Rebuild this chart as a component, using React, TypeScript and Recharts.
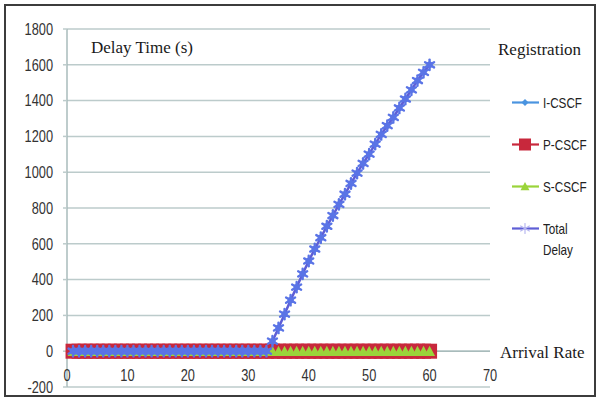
import React from 'react';
import { LineChart, Line, XAxis, YAxis, CartesianGrid, ReferenceLine, Legend } from 'recharts';

const arrivalRate = [1, 2, 3, 4, 5, 6, 7, 8, 9, 10, 11, 12, 13, 14, 15, 16, 17, 18, 19, 20, 21, 22, 23, 24, 25, 26, 27, 28, 29, 30, 31, 32, 33, 34, 35, 36, 37, 38, 39, 40, 41, 42, 43, 44, 45, 46, 47, 48, 49, 50, 51, 52, 53, 54, 55, 56, 57, 58, 59, 60];
const iCscf = [0, 0, 0, 0, 0, 0, 0, 0, 0, 0, 0, 0, 0, 0, 0, 0, 0, 0, 0, 0, 0, 0, 0, 0, 0, 0, 0, 0, 0, 0, 0, 0, 0, 0, 0, 0, 0, 0, 0, 0, 0, 0, 0, 0, 0, 0, 0, 0, 0, 0, 0, 0, 0, 0, 0, 0, 0, 0, 0, 0];
const pCscf = [0, 0, 0, 0, 0, 0, 0, 0, 0, 0, 0, 0, 0, 0, 0, 0, 0, 0, 0, 0, 0, 0, 0, 0, 0, 0, 0, 0, 0, 0, 0, 0, 0, 0, 0, 0, 0, 0, 0, 0, 0, 0, 0, 0, 0, 0, 0, 0, 0, 0, 0, 0, 0, 0, 0, 0, 0, 0, 0, 0];
const sCscf = [0, 0, 0, 0, 0, 0, 0, 0, 0, 0, 0, 0, 0, 0, 0, 0, 0, 0, 0, 0, 0, 0, 0, 0, 0, 0, 0, 0, 0, 0, 0, 0, 0, 0, 0, 0, 0, 0, 0, 0, 0, 0, 0, 0, 0, 0, 0, 0, 0, 0, 0, 0, 0, 0, 0, 0, 0, 0, 0, 0];
const totalDelay = [0, 0, 0, 0, 0, 0, 0, 0, 0, 0, 0, 0, 0, 0, 0, 0, 0, 0, 0, 0, 0, 0, 0, 0, 0, 0, 0, 0, 0, 0, 0, 0, 0, 56, 130, 207, 285, 358, 432, 504, 571, 634, 698, 758, 820, 877, 937, 995, 1049, 1101, 1157, 1211, 1260, 1306, 1359, 1409, 1460, 1512, 1558, 1600];

const xTicks = [0, 10, 20, 30, 40, 50, 60, 70];
const yTicks = [-200, 0, 200, 400, 600, 800, 1000, 1200, 1400, 1600, 1800];

const seriesNames = ['I-CSCF', 'P-CSCF', 'S-CSCF', 'Total Delay'];
const chartTitle = 'Delay Time (s)';
const legendTitle = 'Registration';
const xTitle = 'Arrival Rate';

const data = arrivalRate.map((r, i) => ({
  rate: r,
  iCscf: iCscf[i],
  pCscf: pCscf[i],
  sCscf: sCscf[i],
  totalDelay: totalDelay[i],
}));

const C_I = '#4A94E0';
const C_P = '#C8283C';
const C_S = '#9AD43A';
const C_T = '#5E5ED6';
const C_T_MARK = '#5A74E6';
const GRID = '#BCCBCB';
const AXIS = '#A8BBBB';
const SANS = '"Liberation Sans", Arial, sans-serif';
const SERIF = '"Liberation Serif", "DejaVu Serif", serif';
const SQUEEZE = 0.8;
const LEG_SQUEEZE = 0.78;

function Diamond({ cx, cy, r, color }: any) {
  return <path d={`M${cx},${cy - r}L${cx + r},${cy}L${cx},${cy + r}L${cx - r},${cy}Z`} fill={color} />;
}
function Square({ cx, cy, r, color }: any) {
  return <rect x={cx - r} y={cy - r} width={2 * r} height={2 * r} fill={color} />;
}
function Tri({ cx, cy, r, color }: any) {
  return <path d={`M${cx},${cy - r}L${cx + r},${cy + r * 0.85}L${cx - r},${cy + r * 0.85}Z`} fill={color} />;
}
function Star({ cx, cy, r, color, w }: any) {
  const d = r * 0.866;
  return (
    <g stroke={color} strokeWidth={w} strokeLinecap="round">
      <line x1={cx} y1={cy - r} x2={cx} y2={cy + r} />
      <line x1={cx - d} y1={cy - r / 2} x2={cx + d} y2={cy + r / 2} />
      <line x1={cx - d} y1={cy + r / 2} x2={cx + d} y2={cy - r / 2} />
    </g>
  );
}

const dotI = (p: any) => <Diamond key={`i${p.index}`} cx={p.cx} cy={p.cy} r={3.5} color={C_I} />;
const dotP = (p: any) => <Square key={`p${p.index}`} cx={p.cx} cy={p.cy} r={7.5} color={C_P} />;
const dotS = (p: any) => <Tri key={`s${p.index}`} cx={p.cx} cy={p.cy} r={5.5} color={C_S} />;
const dotT = (p: any) => (
  <g key={`t${p.index}`}>
    <circle cx={p.cx} cy={p.cy} r={3.2} fill={C_T_MARK} />
    <Star cx={p.cx} cy={p.cy} r={5.2} color={C_T_MARK} w={2.4} />
  </g>
);

const legendIcon = (name: string) => {
  const cx = 15;
  const cy = 10.5;
  let color = C_I;
  let mark: any = null;
  if (name === 'I-CSCF') { color = C_I; mark = <Diamond cx={cx} cy={cy} r={3.5} color={C_I} />; }
  if (name === 'P-CSCF') { color = C_P; mark = <Square cx={cx} cy={cy} r={6} color={C_P} />; }
  if (name === 'S-CSCF') { color = C_S; mark = <Tri cx={cx} cy={cy} r={4.5} color={C_S} />; }
  if (name === 'Total Delay') { color = C_T; mark = <Star cx={cx} cy={cy} r={5} color="#B8B8F0" w={1.2} />; }
  return (
    <svg width={32} height={21} style={{ display: 'block', flex: 'none' }}>
      <line x1={2} y1={cy} x2={29} y2={cy} stroke={color} strokeWidth={2.2} />
      {mark}
    </svg>
  );
};

const renderLegend = (props: any) => {
  const payload = props.payload || [];
  return (
    <div style={{ position: 'absolute', left: 510, top: 92, fontFamily: SANS, fontSize: 15, color: '#222' }}>
      {payload.map((p: any) => (
        <div key={p.value} style={{ display: 'flex', alignItems: 'flex-start', height: 42 }}>
          {legendIcon(p.value)}
          <div style={{ transform: `scaleX(${LEG_SQUEEZE})`, transformOrigin: 'left top', marginLeft: 1 }}>
            {String(p.value).split(' ').map((w: string) => (
              <div key={w} style={{ lineHeight: '21px', whiteSpace: 'nowrap' }}>{w}</div>
            ))}
          </div>
        </div>
      ))}
    </div>
  );
};

const XTick = (props: any) => {
  const { x, y, payload } = props;
  return (
    <text x={0} y={0} transform={`translate(${x},${y - 6}) scale(${SQUEEZE},1)`} textAnchor="middle" fill="#333" fontFamily={SANS} fontSize={16}>
      {payload.value}
    </text>
  );
};

const YTick = (props: any) => {
  const { x, y, payload } = props;
  return (
    <text x={0} y={0} dy="0.36em" transform={`translate(${x},${y}) scale(${SQUEEZE},1)`} textAnchor="end" fill="#333" fontFamily={SANS} fontSize={16}>
      {payload.value}
    </text>
  );
};

export default function App() {
  return (
    <div style={{ position: 'absolute', left: 0, top: 0, width: 600, height: 404, background: '#fff' }}>
      <div style={{ position: 'absolute', left: 4, top: 4, width: 592, height: 393, border: '2px solid #3c3c3c', boxSizing: 'border-box' }} />
      <div style={{ position: 'absolute', left: 0, top: 0 }}>
        <LineChart width={600} height={404} data={data} margin={{ top: 29, right: 110, bottom: 0, left: 7 }}>
          <CartesianGrid vertical={false} stroke={GRID} strokeWidth={1.5} />
          <XAxis
            dataKey="rate"
            type="number"
            domain={[0, 70]}
            ticks={xTicks}
            height={17}
            axisLine={false}
            tickLine={false}
            tickSize={0}
            tickMargin={0}
            tick={(p: any) => <XTick {...p} />}
            interval={0}
          />
          <YAxis
            type="number"
            domain={[-200, 1800]}
            ticks={yTicks}
            width={60}
            interval={0}
            axisLine={{ stroke: AXIS, strokeWidth: 1.5 }}
            tickLine={{ stroke: GRID, strokeWidth: 1.5 }}
            tickSize={4}
            tickMargin={10}
            tick={(p: any) => <YTick {...p} />}
          />
          <ReferenceLine y={0} stroke={AXIS} strokeWidth={1.5} />
          <Legend content={renderLegend} wrapperStyle={{ left: 0, top: 0, width: 0, height: 0 }} />
          <Line name={seriesNames[0]} dataKey="iCscf" stroke={C_I} strokeWidth={2} dot={dotI} activeDot={false} isAnimationActive={false} />
          <Line name={seriesNames[1]} dataKey="pCscf" stroke={C_P} strokeWidth={2} dot={dotP} activeDot={false} isAnimationActive={false} />
          <Line name={seriesNames[2]} dataKey="sCscf" stroke={C_S} strokeWidth={2} dot={dotS} activeDot={false} isAnimationActive={false} />
          <Line name={seriesNames[3]} dataKey="totalDelay" stroke={C_T} strokeWidth={2.5} dot={dotT} activeDot={false} isAnimationActive={false} />
        </LineChart>
      </div>
      <svg width={600} height={404} style={{ position: 'absolute', left: 0, top: 0, pointerEvents: 'none' }}>
        <text x={91} y={53} fontFamily={SERIF} fontSize={17} fill="#1a1a1a">{chartTitle}</text>
        <text x={498} y={55} fontFamily={SERIF} fontSize={17} fill="#1a1a1a">{legendTitle}</text>
        <text x={500} y={358} fontFamily={SERIF} fontSize={17} fill="#1a1a1a">{xTitle}</text>
      </svg>
    </div>
  );
}
